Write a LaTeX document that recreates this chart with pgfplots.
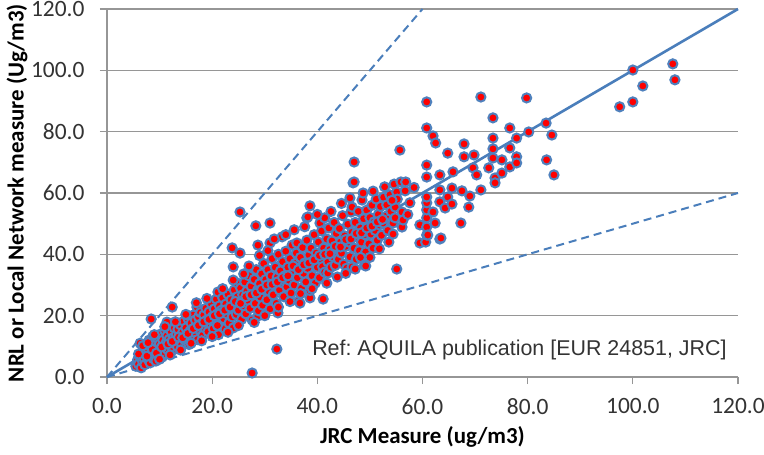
\documentclass[border=0pt]{standalone}
\usepackage{pgfplots}
\pgfplotsset{compat=1.18}
\usepackage{fontspec}
\setmainfont{Carlito}
\newfontfamily\arialfont{Liberation Sans}
\definecolor{mkedge}{HTML}{4F81BD}
\definecolor{lineblue}{HTML}{4A7EBB}
\definecolor{gridgray}{HTML}{969696}
\frenchspacing
\begin{document}
\begin{tikzpicture}
\useasboundingbox (-107bp,-78bp) rectangle (657bp,377bp);
\begin{axis}[
  at={(0,0)}, anchor=south west,
  scale only axis, width=631bp, height=368bp,
  xmin=0, xmax=120, ymin=0, ymax=120,
  xtick={0,20,...,120}, ytick={0,20,...,120},
  axis x line*=bottom, axis y line*=left,
  axis line style={gridgray, line width=1.2bp},
  ymajorgrids, grid style={gridgray, line width=1.2bp},
  tick align=outside, major tick length=7bp,
  tick style={gridgray, line width=1.2bp},
  xticklabel style={font=\fontsize{23.5}{26}\selectfont, text=black!80, yshift=-11bp},
  yticklabel style={font=\fontsize{23.5}{26}\selectfont, text=black!80, xshift=-12bp},
  /pgf/number format/assume math mode=true,
  /pgf/number format/.cd, fixed, fixed zerofill, precision=1, /pgfplots/.cd,
  xlabel={\bfseries JRC Measure (ug/m3)},
  ylabel={\bfseries NRL or Local Network measure (Ug/m3)},
  x label style={at={(axis description cs:0.5,0)}, yshift=-60bp, anchor=center, font=\fontsize{23}{26}\selectfont},
  y label style={at={(axis description cs:-0.1426,0.5)}, anchor=center, font=\fontsize{23}{26}\selectfont},
  clip=false,
]
\addplot[only marks, mark=*, mark size=4.6bp, mark options={fill=red, draw=mkedge, line width=2bp}] coordinates {
(5.5,3.5)(5.8,5.5)(6.0,4.2)(6.2,6.8)(6.5,3.0)(6.6,8.0)(6.8,5.0)(7.0,6.2)(7.0,9.8)(6.3,11.0)(7.2,4.0)(7.4,7.5)(7.5,10.5)(7.8,5.8)(7.9,8.8)(8.0,12.0)(8.2,4.6)(8.4,7.0)(8.4,18.9)(8.5,10.0)(8.7,13.2)(8.8,6.0)(9.0,8.5)(9.2,11.4)(9.3,5.2)(9.5,9.5)(9.6,12.6)(9.8,7.4)(10.0,10.8)(10.2,14.0)(10.3,8.0)(10.5,6.5)(10.6,12.0)(10.8,9.6)(11.0,15.0)(11.0,7.6)(11.2,11.0)(11.4,13.4)(11.5,9.0)(11.4,17.9)(11.8,12.2)(12.0,10.4)(12.2,14.8)(12.4,22.8)(12.5,8.8)(12.6,12.8)(12.8,16.0)(13.0,11.2)(13.2,13.8)(13.4,9.8)(13.5,15.6)(13.8,12.4)(14.0,17.0)(14.2,10.6)(14.4,14.6)(14.6,18.2)(14.8,12.0)(15.0,16.0)(15.2,13.4)(15.4,19.0)(15.6,10.6)(15.8,15.0)(16.0,17.6)(16.2,12.8)(16.4,20.2)(16.6,14.6)(16.8,18.6)(17.0,16.2)(17.1,22.8)(17.2,12.2)(17.4,19.6)(17.6,15.4)(17.8,21.0)(18.0,17.4)(18.2,13.6)(18.4,20.2)(18.6,16.0)(18.8,22.4)(19.0,18.6)(19.2,14.8)(19.4,21.2)(19.6,17.4)(19.8,24.0)(20.0,19.6)(20.2,15.8)(20.4,22.2)(20.6,18.0)(20.8,25.4)(21.0,20.6)(21.1,27.7)(21.2,13.8)(21.4,23.2)(21.6,17.2)(21.8,21.8)(22.0,25.8)(22.2,19.0)(22.4,15.8)(22.6,23.8)(22.8,20.6)(23.0,27.0)(23.2,17.6)(23.4,22.4)(23.6,25.2)(23.8,42.1)(23.8,19.6)(24.0,35.9)(24.0,16.0)(24.2,28.4)(24.4,23.0)(24.6,20.4)(24.7,30.7)(24.8,26.2)(25.0,21.8)(25.2,24.4)(25.3,40.4)(25.3,53.8)(25.4,29.0)(25.6,18.8)(25.8,26.8)(26.0,23.2)(26.2,31.0)(26.4,20.6)(26.6,28.0)(26.8,25.0)(27.0,33.0)(27.2,22.4)(27.4,29.6)(27.6,18.6)(27.6,1.3)(27.8,26.6)(28.0,31.8)(28.2,24.0)(28.3,49.3)(28.4,35.0)(28.6,28.2)(28.7,43.0)(28.7,19.9)(28.8,21.6)(29.0,30.4)(29.2,26.0)(29.4,33.6)(29.6,23.4)(29.8,37.0)(30.0,29.0)(30.2,31.8)(30.4,25.2)(30.6,35.0)(30.8,28.0)(31.0,50.2)(31.0,43.7)(31.0,22.2)(31.2,33.0)(31.4,38.6)(31.6,26.8)(31.8,30.6)(32.0,35.8)(32.3,9.1)(32.2,24.0)(32.4,32.6)(32.5,20.9)(32.6,40.0)(32.8,28.4)(33.0,34.6)(33.2,30.8)(33.3,45.7)(33.4,37.6)(33.6,26.2)(33.8,33.0)(34.0,41.0)(34.2,29.4)(34.4,35.8)(34.6,31.6)(34.8,38.6)(35.0,27.4)(35.2,43.0)(35.4,34.0)(35.6,30.0)(35.8,37.0)(36.0,40.4)(36.1,43.7)(36.2,32.4)(36.4,24.8)(36.6,35.6)(36.7,24.1)(36.8,39.0)(37.0,29.0)(37.2,42.2)(37.4,33.8)(37.6,37.2)(37.8,31.0)(38.0,51.9)(38.0,44.6)(38.2,52.2)(38.2,35.4)(38.4,39.8)(38.6,55.8)(38.6,25.8)(38.6,28.2)(38.8,42.0)(39.0,33.0)(39.2,37.6)(39.4,46.4)(39.6,30.6)(39.8,40.4)(40.0,35.8)(40.2,44.0)(40.5,50.2)(40.4,32.4)(40.6,38.4)(40.8,47.6)(41.0,36.0)(41.1,25.4)(41.2,42.0)(41.4,51.9)(41.4,34.2)(41.6,39.8)(41.8,45.0)(42.0,33.9)(42.0,37.6)(42.2,48.6)(42.4,41.6)(42.6,35.8)(42.8,44.4)(43.0,39.2)(43.2,50.4)(43.4,36.4)(43.6,46.8)(43.8,42.2)(44.0,38.4)(44.2,48.4)(44.4,44.0)(44.6,40.4)(44.8,52.6)(45.0,36.8)(45.2,46.0)(45.4,42.6)(45.6,35.5)(45.8,49.8)(46.0,44.0)(46.2,39.2)(46.4,53.8)(46.6,55.4)(46.6,35.9)(46.6,47.2)(46.8,63.3)(47.0,70.1)(47.0,63.6)(47.0,42.0)(47.2,50.4)(47.4,38.4)(47.6,45.6)(47.8,54.0)(48.0,41.2)(48.2,48.6)(48.5,57.7)(48.4,44.0)(48.7,60.0)(48.8,51.6)(49.0,36.5)(49.0,46.4)(49.2,36.2)(49.2,40.8)(49.4,54.4)(49.6,49.0)(49.8,43.4)(50.0,52.0)(50.2,46.6)(50.4,56.0)(50.6,42.0)(50.8,50.6)(51.0,47.8)(51.2,58.0)(51.4,44.6)(51.6,53.0)(51.8,49.6)(52.0,55.6)(52.2,46.2)(52.5,50.2)(52.6,58.6)(53.0,52.4)(53.2,56.1)(53.4,47.8)(53.8,59.4)(54.0,54.0)(54.4,50.2)(54.4,46.6)(54.6,62.9)(54.8,55.4)(54.8,51.9)(55.1,35.2)(55.1,60.3)(55.2,58.0)(55.7,74.0)(55.9,63.6)(56.1,53.8)(56.1,48.9)(56.3,51.2)(56.7,60.7)(56.8,63.6)
(6.0,7.5)(7.6,6.8)(8.6,9.0)(9.4,7.8)(10.4,9.8)(11.6,10.8)(12.4,11.6)(13.6,13.0)(14.4,12.8)(15.4,14.2)(16.4,15.8)(17.4,16.8)(18.4,18.0)(19.4,18.8)(20.4,20.0)(21.4,20.6)(22.4,21.8)(23.4,22.8)(24.4,24.6)(25.4,24.0)(26.4,26.2)(27.4,26.8)(28.4,27.4)(29.4,28.6)(30.4,30.0)(31.4,30.2)(32.4,31.0)(33.4,32.4)(34.4,33.0)(35.4,36.2)(36.4,35.0)(37.4,36.6)(38.4,37.2)(39.4,38.2)(40.4,39.6)(41.4,40.0)(42.4,40.2)(43.4,42.6)(44.4,42.4)(45.4,44.8)(46.4,45.0)(47.4,46.8)(48.4,47.0)(49.4,48.6)(50.4,49.2)(51.4,50.6)(52.4,51.4)
(6.8,10.2)(7.8,11.2)(9.0,13.8)(10.0,5.8)(11.0,16.4)(12.0,7.2)(13.0,18.0)(14.0,8.8)(15.0,20.4)(16.0,11.0)(17.0,24.2)(18.0,11.8)(19.0,25.6)(20.0,13.2)(21.0,16.8)(22.0,28.8)(23.0,14.6)(24.0,31.6)(25.0,16.8)(26.0,33.6)(27.0,36.2)(28.0,17.8)(29.0,39.6)(30.0,20.0)(30.6,41.2)(31.8,45.0)(32.6,22.8)(34.0,46.4)(34.8,24.6)(35.6,48.0)(36.8,27.2)(37.6,49.0)(39.0,28.8)(40.0,53.0)(41.8,30.6)(42.6,54.0)(43.8,32.6)(44.6,56.6)(45.4,33.8)(46.2,58.4)(47.2,35.2)(48.2,39.0)(50.0,39.0)(50.6,60.6)(51.8,41.8)(52.8,62.0)(53.6,44.0)(54.2,57.6)(57.6,56.8)(58.4,61.8)(57.2,53.0)
(59.5,43.7)(59.5,49.6)(60.6,44.0)(60.8,46.3)(60.8,48.9)(60.8,51.9)(60.8,54.5)(60.8,56.8)(60.8,58.7)(60.8,65.2)(60.8,69.1)(60.8,81.2)(60.8,89.7)(61.0,46.3)(62.0,78.6)(62.0,53.8)(62.4,50.2)(62.5,76.3)(63.3,65.9)(63.3,61.0)(63.3,57.1)(63.3,45.0)(63.5,45.3)(64.3,55.1)(64.8,73.0)(64.8,58.7)(65.6,61.6)(65.6,56.4)(65.8,66.9)(67.3,50.2)(67.5,60.7)(67.9,76.0)(67.9,71.8)(68.8,55.4)(69.0,59.0)(69.6,68.2)(69.8,72.4)(70.3,65.9)(71.1,61.0)(71.1,91.3)(72.6,68.2)(73.4,84.5)(73.4,77.9)(73.4,74.4)(73.4,71.4)(73.8,64.9)(73.8,63.3)(75.1,70.8)(75.1,66.5)(76.6,81.2)(76.6,74.7)(76.6,68.5)(77.9,77.9)(77.9,71.8)(77.9,69.8)(79.8,91.0)(80.2,79.9)(83.5,82.8)(83.6,70.8)(84.6,78.9)(85.0,65.9)
(97.5,88.1)(100.0,89.7)(100.0,100.1)(101.9,94.9)(107.6,102.1)(108.0,96.9)
};
\addplot[lineblue, line width=2.6bp] coordinates {(0,0) (120,120)};
\addplot[lineblue, line width=2bp, dash pattern=on 8bp off 5bp] coordinates {(0,0) (60,120)};
\addplot[lineblue, line width=2bp, dash pattern=on 8bp off 5bp] coordinates {(0,0) (120,60)};
\node[anchor=west, font=\arialfont\fontsize{21.5}{24}\selectfont, text=black!80, inner sep=0pt] at (axis cs:39,8.8) {Ref: AQUILA publication [EUR 24851, JRC]};
\end{axis}
\end{tikzpicture}
\end{document}
